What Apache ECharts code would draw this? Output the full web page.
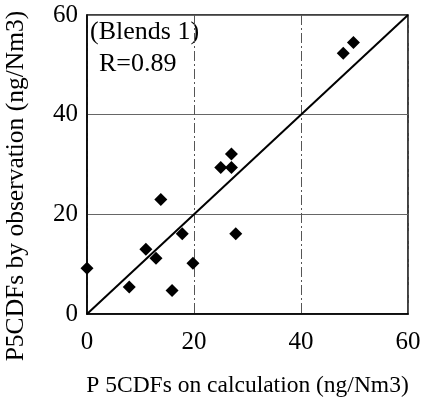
<!DOCTYPE html>
<html><head><meta charset="utf-8">
<script src="https://cdn.jsdelivr.net/npm/echarts@6/dist/echarts.min.js"></script>
<style>html,body{margin:0;padding:0;background:#fff}#c{width:431px;height:401px}</style>
</head><body><div id="c"></div>
<script>
const calcValues = [0, 7.9, 11.0, 12.9, 13.8, 15.9, 17.8, 19.8, 25.0, 27.0, 27.0, 27.8, 47.9, 49.8];
const obsValues  = [9.2, 5.4, 13.0, 11.2, 23.0, 4.7, 16.1, 10.2, 29.4, 29.4, 32.1, 16.1, 52.3, 54.5];
const lineX = [0, 60];
const lineY = [0, 60];
const tickValues = [0, 20, 40, 60];
const xName = 'P 5CDFs on calculation (ng/Nm3)';
const yName = 'P5CDFs by observation (ng/Nm3)';
const noteLines = ['(Blends 1)', 'R=0.89'];

const font = 'Liberation Serif, Times New Roman, serif';
const chart = echarts.init(document.getElementById('c'));
const scatterData = calcValues.map((x, i) => [x, obsValues[i]]);
const lineData = lineX.map((x, i) => [x, lineY[i]]);
const axisCommon = {
  type: 'value', min: tickValues[0], max: tickValues[tickValues.length - 1], interval: 20,
  axisLine: { show: true, lineStyle: { color: '#000', width: 1.5 } },
  axisTick: { show: false },
  axisLabel: { color: '#000', fontFamily: font, fontSize: 25 },
  nameLocation: 'middle',
  nameTextStyle: { color: '#000', fontFamily: font, fontSize: 23.5 }
};
chart.setOption({
  animation: false,
  backgroundColor: '#fff',
  grid: { left: 87, right: 23, top: 15, bottom: 87, show: true, borderColor: '#000', borderWidth: 1.5,
          containLabel: false, outerBoundsMode: 'none' },
  xAxis: Object.assign({}, axisCommon, {
    name: xName, nameGap: 60,
    axisLabel: Object.assign({}, axisCommon.axisLabel, { margin: 16 }),
    splitLine: { show: true, lineStyle: { color: '#555', width: 1, type: [10, 3, 2, 3] } }
  }),
  yAxis: Object.assign({}, axisCommon, {
    axisLabel: Object.assign({}, axisCommon.axisLabel, { margin: 9 }),
    splitLine: { show: true, lineStyle: { color: '#666', width: 1 } }
  }),
  series: [
    { type: 'line', data: lineData, symbol: 'none', lineStyle: { color: '#000', width: 2 }, z: 2 },
    { type: 'scatter', data: scatterData, symbol: 'diamond', symbolSize: 13, itemStyle: { color: '#000', opacity: 1 }, z: 3 }
  ],
  graphic: [
    { type: 'text', x: 16, y: 186, rotation: Math.PI / 2,
      style: { text: yName, font: '25.5px ' + font, fill: '#000', align: 'center', verticalAlign: 'middle' } },
    { type: 'text', left: 90, top: 19, style: { text: noteLines[0], font: '26px ' + font, fill: '#000' } },
    { type: 'text', left: 99, top: 51, style: { text: noteLines[1], font: '26px ' + font, fill: '#000' } }
  ]
});
</script></body></html>
